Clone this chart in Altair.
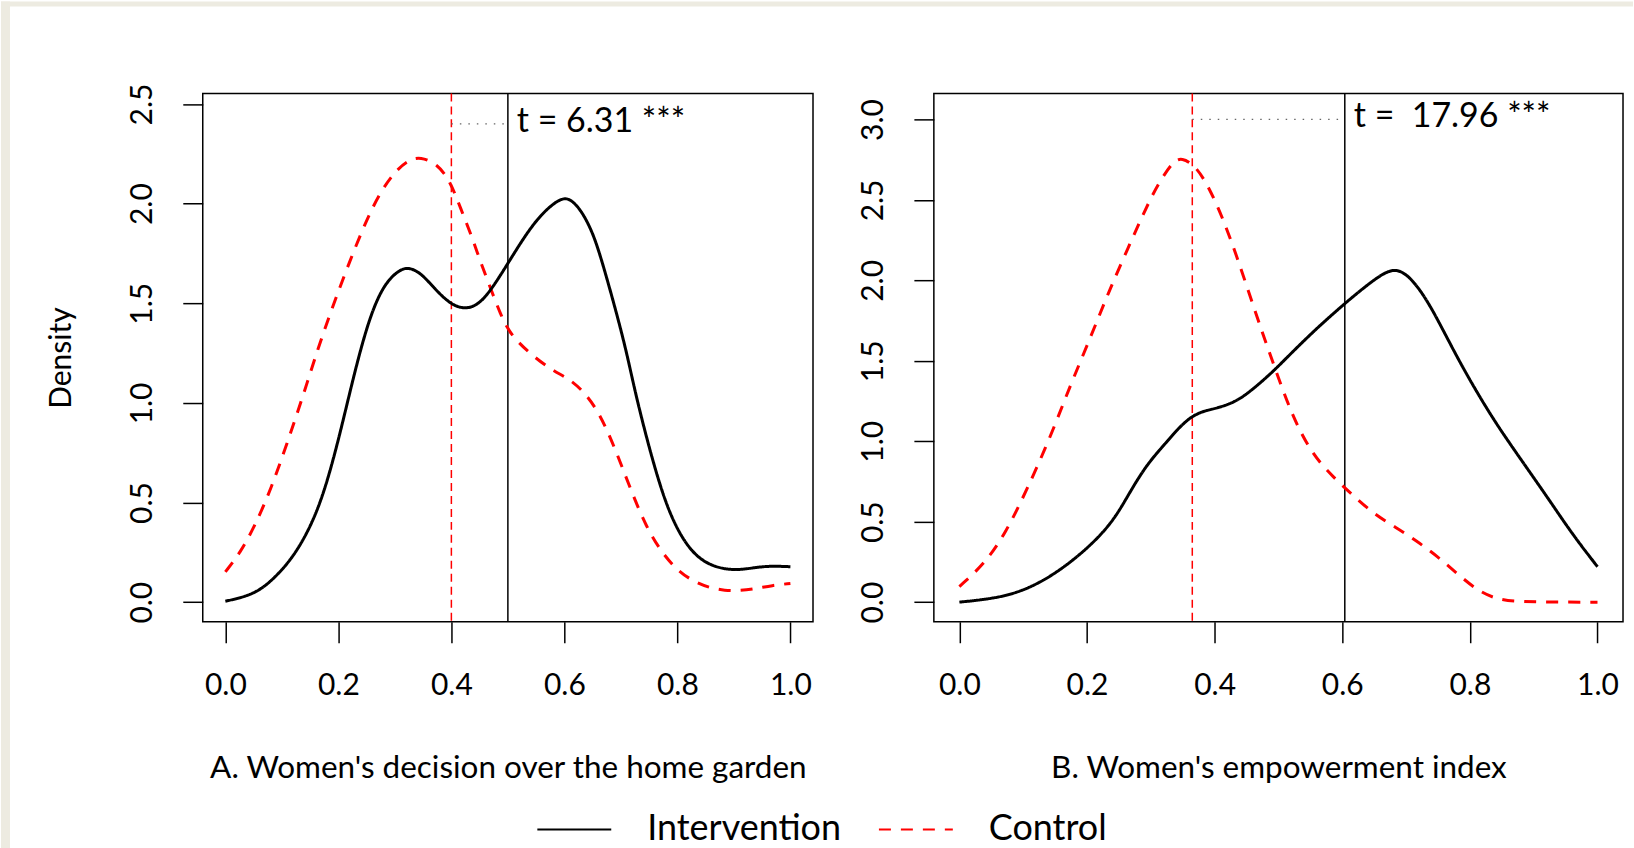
import altair as alt
import pandas as pd

# ---------------- data ----------------
groups = ["Intervention", "Control"]

# Panel A: Women's decision over the home garden
A_int_x = [0.0, 0.035, 0.063, 0.09, 0.118, 0.146, 0.173, 0.201, 0.229, 0.257, 0.284, 0.31, 0.324,
           0.345, 0.369, 0.398, 0.425, 0.448, 0.469, 0.499, 0.528, 0.558, 0.593, 0.611, 0.631, 0.652,
           0.67, 0.693, 0.711, 0.727, 0.755, 0.782, 0.81, 0.837, 0.865, 0.893, 0.92, 0.957, 1.0]
A_int_y = [0.005, 0.027, 0.063, 0.13, 0.22, 0.35, 0.53, 0.82, 1.16, 1.45, 1.61, 1.67, 1.68,
           1.655, 1.578, 1.494, 1.469, 1.494, 1.561, 1.695, 1.829, 1.946, 2.03, 2.025, 1.962, 1.845,
           1.678, 1.444, 1.244, 1.03, 0.72, 0.47, 0.31, 0.22, 0.178, 0.162, 0.165, 0.183, 0.178]
A_ctl_x = [0.0, 0.026, 0.053, 0.081, 0.109, 0.137, 0.164, 0.192, 0.22, 0.247, 0.275, 0.303, 0.325,
           0.345, 0.375, 0.398, 0.416, 0.437, 0.451, 0.469, 0.487, 0.504, 0.54, 0.58, 0.607, 0.635,
           0.662, 0.69, 0.718, 0.745, 0.773, 0.801, 0.828, 0.856, 0.884, 0.911, 0.939, 0.967, 1.0]
A_ctl_y = [0.152, 0.246, 0.387, 0.57, 0.795, 1.03, 1.275, 1.50, 1.71, 1.90, 2.064, 2.17, 2.22,
           2.235, 2.20, 2.113, 1.979, 1.829, 1.712, 1.578, 1.444, 1.344, 1.244, 1.16, 1.124, 1.056,
           0.95, 0.77, 0.56, 0.376, 0.246, 0.157, 0.105, 0.073, 0.058, 0.058, 0.068, 0.084, 0.094]
A_means = {"Intervention": 0.5, "Control": 0.4}
A_t_label = "t = 6.31 ***"
A_t_y = 2.4

# Panel B: Women's empowerment index
B_int_x = [0.0, 0.064, 0.113, 0.162, 0.211, 0.244, 0.268, 0.293, 0.317, 0.33, 0.348, 0.366, 0.385,
           0.403, 0.431, 0.455, 0.488, 0.507, 0.554, 0.604, 0.642, 0.674, 0.694, 0.715, 0.741, 0.783,
           0.83, 0.863, 0.895, 0.928, 0.961, 1.0]
B_int_y = [0.0, 0.026, 0.09, 0.207, 0.37, 0.52, 0.69, 0.85, 0.96, 1.02, 1.10, 1.16, 1.19,
           1.205, 1.241, 1.306, 1.42, 1.495, 1.681, 1.857, 1.981, 2.07, 2.06, 1.981, 1.826, 1.495,
           1.177, 0.983, 0.802, 0.614, 0.42, 0.22]
B_ctl_x = [0.0, 0.04, 0.073, 0.105, 0.142, 0.173, 0.205, 0.233, 0.264, 0.298, 0.317, 0.335, 0.348,
           0.371, 0.392, 0.413, 0.434, 0.455, 0.476, 0.491, 0.521, 0.553, 0.586, 0.618, 0.651, 0.684,
           0.716, 0.749, 0.781, 0.814, 0.846, 0.88, 0.94, 1.0]
B_ctl_y = [0.097, 0.24, 0.433, 0.692, 1.019, 1.34, 1.64, 1.919, 2.199, 2.499, 2.634, 2.737, 2.765,
           2.71, 2.571, 2.385, 2.158, 1.909, 1.661, 1.495, 1.16, 0.918, 0.776, 0.659, 0.543, 0.465,
           0.382, 0.285, 0.174, 0.065, 0.013, 0.002, 0.0, 0.0]
B_means = {"Intervention": 0.604, "Control": 0.365}
B_t_label = "t =\u00a0 17.96 ***"
B_t_y = 3.0

x_ticks = [0.0, 0.2, 0.4, 0.6, 0.8, 1.0]
A_y_ticks = [0.0, 0.5, 1.0, 1.5, 2.0, 2.5]
B_y_ticks = [0.0, 0.5, 1.0, 1.5, 2.0, 2.5, 3.0]
A_title = "A. Women's decision over the home garden"
B_title = "B. Women's empowerment index"

# ---------------- styling ----------------
FONT = "Lato"
BEIGE = "#EDEBE1"
X_DOMAIN = [-0.04, 1.04]
A_Y_DOMAIN = [-0.0982, 2.5532]
B_Y_DOMAIN = [-0.122, 3.162]
A_W, B_W, H = 611, 690, 529

color_scale = alt.Scale(domain=groups, range=["black", "#ff0000"])
dash_scale = alt.Scale(domain=groups, range=[[1, 0], [12, 10]])
legend = alt.Legend(orient="none", legendX=334, legendY=717, direction="horizontal",
                    title=None, symbolType="stroke", symbolSize=5476, symbolStrokeWidth=2,
                    clipHeight=40,
                    labelFontSize=36, labelFont=FONT, labelColor="black", labelOffset=35,
                    labelLimit=600, columnPadding=36, padding=0)


def lines_df(ix, iy, cx, cy):
    a = pd.DataFrame({"x": ix, "y": iy, "group": "Intervention"})
    b = pd.DataFrame({"x": cx, "y": cy, "group": "Control"})
    return pd.concat([b, a], ignore_index=True)


def panel(df, means, t_label, t_y, y_domain, y_ticks, title, width, y_title, first):
    xenc = alt.X("x:Q", scale=alt.Scale(domain=X_DOMAIN, nice=False, zero=False),
                 axis=alt.Axis(values=x_ticks, format=".1f", title=title, domain=False, grid=False,
                               tickSize=21, tickWidth=1.5, tickColor="black",
                               labelFont=FONT, labelFontSize=30, labelColor="black",
                               labelPadding=28, labelFlush=False, labelOverlap=False,
                               titleFont=FONT, titleFontSize=31.5, titleFontWeight="normal",
                               titleColor="black", titlePadding=52))
    yenc = alt.Y("y:Q", scale=alt.Scale(domain=y_domain, nice=False, zero=False),
                 axis=alt.Axis(values=y_ticks, format=".1f", title=y_title, domain=False, grid=False,
                               tickSize=20, tickWidth=1.5, tickColor="black",
                               labelFont=FONT, labelFontSize=30, labelColor="black",
                               labelAngle=270, labelAlign="center", labelBaseline="bottom",
                               labelPadding=25, labelFlush=False, labelOverlap=False,
                               titleFont=FONT, titleFontSize=30, titleFontWeight="normal",
                               titleColor="black", titlePadding=51))

    vline_int = alt.Chart(pd.DataFrame({"x": [means["Intervention"]]})).mark_rule(
        color="black", strokeWidth=1.5).encode(x=xenc)
    vline_ctl = alt.Chart(pd.DataFrame({"x": [means["Control"]]})).mark_rule(
        color="#ff0000", strokeWidth=1.5, strokeDash=[8, 5]).encode(x=xenc)
    dotted = alt.Chart(pd.DataFrame({"x": [means["Control"]], "x2": [means["Intervention"]],
                                     "y": [t_y]})).mark_rule(
        color="#666666", strokeWidth=1.3, strokeDash=[1.5, 7]).encode(
        x=xenc, x2="x2:Q", y=yenc)
    text = alt.Chart(pd.DataFrame({"x": [means["Intervention"]], "y": [t_y],
                                   "label": [t_label]})).mark_text(
        align="left", baseline="middle", dx=9, dy=-2, font=FONT, fontSize=34,
        color="black").encode(x=xenc, y=yenc, text="label:N")
    curves = alt.Chart(df).mark_line(strokeWidth=3, interpolate="basis").encode(
        x=xenc, y=yenc,
        color=alt.Color("group:N", scale=color_scale, legend=legend),
        strokeDash=alt.StrokeDash("group:N", scale=dash_scale, legend=legend),
        detail="group:N",
    )
    layers = []
    if first:
        # beige page frame (left and top strips) of the original figure
        frame = alt.Data(values=[{}])
        left = alt.Chart(frame).mark_rect(color=BEIGE).encode(
            x=alt.value(-202), x2=alt.value(-193), y=alt.value(-92), y2=alt.value(756))
        top = alt.Chart(frame).mark_rect(color=BEIGE).encode(
            x=alt.value(-202), x2=alt.value(1432), y=alt.value(-92), y2=alt.value(-87))
        layers += [left, top]
    layers += [vline_ctl, vline_int, dotted, text, curves]
    return alt.layer(*layers).properties(width=width, height=H)


A = panel(lines_df(A_int_x, A_int_y, A_ctl_x, A_ctl_y), A_means, A_t_label, A_t_y,
          A_Y_DOMAIN, A_y_ticks, A_title, A_W, "Density", True)
B = panel(lines_df(B_int_x, B_int_y, B_ctl_x, B_ctl_y), B_means, B_t_label, B_t_y,
          B_Y_DOMAIN, B_y_ticks, B_title, B_W, None, False)

chart = alt.hconcat(A, B, spacing=121, bounds="flush").resolve_scale(
    x="independent", y="independent", color="shared", strokeDash="shared"
).properties(padding=0).configure(
    background="white", font=FONT
).configure_view(stroke="black", strokeWidth=1.5)

chart.save("out.html", embed_options={"renderer": "svg", "actions": False})
